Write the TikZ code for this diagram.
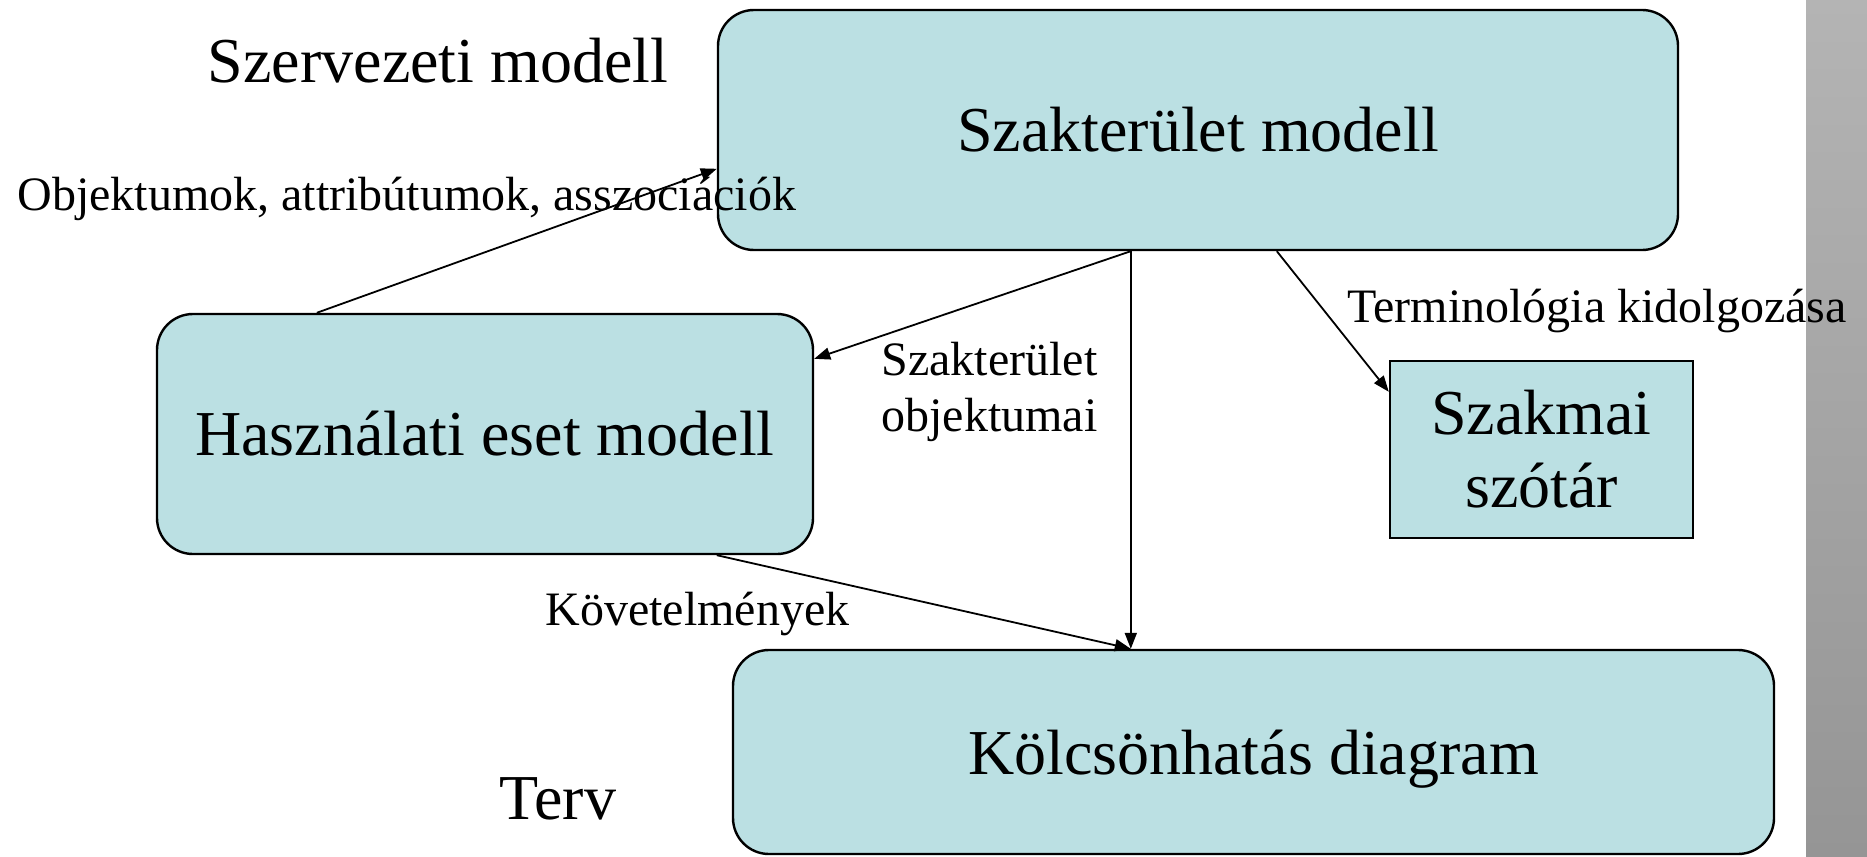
\documentclass[tikz,border=0pt]{standalone}
\usepackage{fontspec}
\setmainfont{Liberation Serif}
\usetikzlibrary{arrows.meta,calc}
\definecolor{boxfill}{RGB}{187,224,227}
\definecolor{graytop}{RGB}{180,180,180}
\definecolor{graybot}{RGB}{149,149,149}
\tikzset{
  mbox/.style={draw=black, line width=1.2pt, fill=boxfill, rounded corners=18pt, inner sep=0pt, align=center, font=\fontsize{32}{36}\selectfont},
  sbox/.style={draw=black, line width=1.2pt, fill=boxfill, inner sep=0pt, align=center, font=\fontsize{32}{36.5}\selectfont},
  big/.style={font=\fontsize{32}{36}\selectfont, inner sep=0pt},
  lbl/.style={font=\fontsize{24}{26}\selectfont, inner sep=0pt},
  conn/.style={line width=0.9pt, -{Triangle[length=8pt,width=6pt]}}
}
\begin{document}
\begin{tikzpicture}[x=0.5pt,y=-0.5pt]
\useasboundingbox (0,0) rectangle (1867,856);
\fill[white] (0,0) rectangle (1867,856);
\shade[top color=graytop, bottom color=graybot] (1806,0) rectangle (1867,856);

\node[mbox, minimum width=480pt, minimum height=120pt] (szak) at (1198,130) {Szakterület modell};
\node[mbox, minimum width=328pt, minimum height=120pt] (hasz) at (485,434) {Használati eset modell};
\node[sbox, minimum width=151.5pt, minimum height=88.5pt] (szot) at (1541.5,449.5) {Szakmai\\szótár};
\node[mbox, minimum width=520.5pt, minimum height=102pt, text depth=0pt] (kolcs) at (1253.5,752) {Kölcsönhatás diagram};

\node[big, anchor=base] (szerv) at (438,83) {Szervezeti modell};
\node[big, anchor=base] (terv) at (558,819) {Terv};

\node[lbl, anchor=base west] (l1) at (17,210) {Objektumok, attribútumok, asszociációk};
\node[lbl, anchor=base west, align=left] (l2) at (881,431) {Szakterület\\[2pt]objektumai};
\node[lbl, anchor=base west] (l3) at (1347,322) {Terminológia kidolgozása};
\node[lbl, anchor=base west] (l4) at (545,625) {Követelmények};

\coordinate (p1) at ($(hasz.north west)+(161,0)$);
\coordinate (p2) at ($(szak.north west)+(0,160)$);
\coordinate (p3) at ($(szak.south west)+(414,0)$);
\coordinate (p4) at ($(hasz.north east)+(0,46)$);
\coordinate (p5) at ($(kolcs.north west)+(399,0)$);
\coordinate (p6) at ($(szak.south west)+(560,0)$);
\coordinate (p7) at ($(szot.north west)+(0,32)$);
\coordinate (p8) at ($(hasz.south west)+(561,0)$);

\draw[conn] (p1) -- (p2);
\draw[conn] (p3) -- (p4);
\draw[conn] (p3) -- (p5);
\draw[conn] (p6) -- (p7);
\draw[conn] (p8) -- (p5);
\end{tikzpicture}
\end{document}
